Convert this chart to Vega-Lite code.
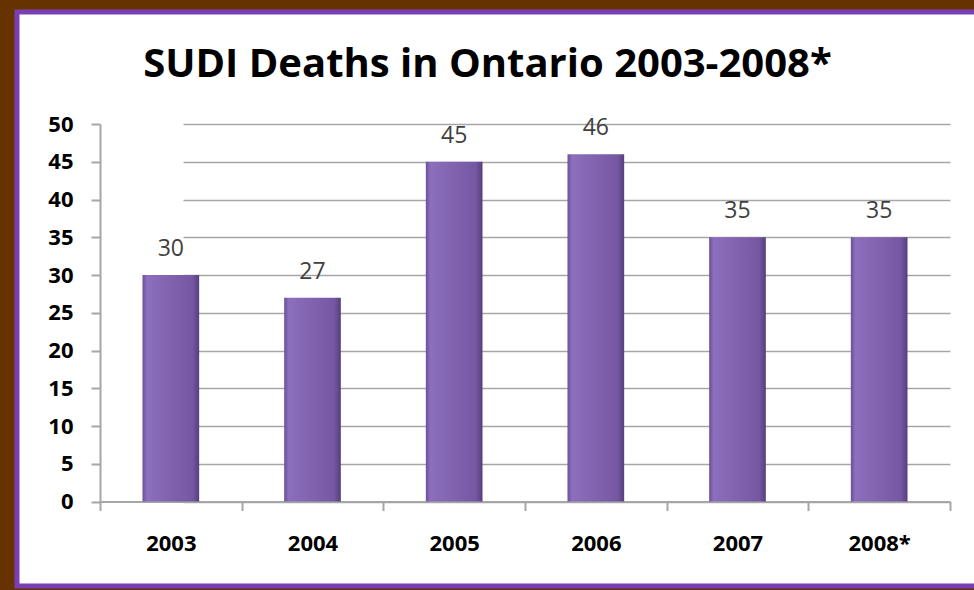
{
  "$schema": "https://vega.github.io/schema/vega-lite/v6.json",
  "width": 961,
  "height": 574,
  "autosize": {"type": "none"},
  "padding": {"left": 17, "top": 12, "right": -4, "bottom": 4},
  "background": "#663300",
  "config": {
    "view": {"fill": "white", "stroke": "#7b3fb5", "strokeWidth": 5},
    "font": "Open Sans"
  },
  "title": {
    "text": "SUDI Deaths in Ontario 2003-2008*",
    "font": "Open Sans",
    "fontSize": 40,
    "fontWeight": "bold",
    "color": "#000000",
    "anchor": "middle",
    "baseline": "alphabetic",
    "offset": -105,
    "dx": -10
  },
  "data": {
    "values": [
      {"year": "2003", "deaths": 30},
      {"year": "2004", "deaths": 27},
      {"year": "2005", "deaths": 45},
      {"year": "2006", "deaths": 46},
      {"year": "2007", "deaths": 35},
      {"year": "2008*", "deaths": 35}
    ]
  },
  "encoding": {
    "x": {
      "field": "year",
      "type": "nominal",
      "sort": null,
      "scale": {"range": [83, 933], "paddingInner": 0, "paddingOuter": 0},
      "axis": {
        "title": null,
        "orient": "bottom",
        "offset": -84.5,
        "labelAngle": 0,
        "tickBand": "extent",
        "domainColor": "#a6a6a6",
        "domainWidth": 2,
        "tickColor": "#a6a6a6",
        "tickWidth": 2,
        "tickSize": 9,
        "labelPadding": 23,
        "labelFont": "Open Sans",
        "labelFontWeight": "bold",
        "labelFontSize": 22,
        "labelColor": "#000000",
        "grid": false
      }
    },
    "y": {
      "field": "deaths",
      "type": "quantitative",
      "scale": {"domain": [0, 50], "range": [489.5, 112], "nice": false},
      "axis": {
        "title": null,
        "values": [0, 5, 10, 15, 20, 25, 30, 35, 40, 45, 50],
        "offset": -83,
        "domainColor": "#a6a6a6",
        "domainWidth": 2,
        "tickColor": "#a6a6a6",
        "tickWidth": 2,
        "tickSize": 9,
        "labelPadding": 18,
        "labelFont": "Open Sans",
        "labelFontWeight": "bold",
        "labelFontSize": 22,
        "labelColor": "#000000",
        "labelBound": false,
        "grid": true,
        "gridColor": "#a6a6a6",
        "gridWidth": 1.5,
        "gridDash": [0, 83, 850, 3000],
        "gridCap": "butt"
      }
    }
  },
  "layer": [
    {
      "mark": {
        "type": "bar",
        "width": {"band": 0.4},
        "color": {
          "gradient": "linear",
          "x1": 0, "x2": 1, "y1": 0, "y2": 0,
          "stops": [
            {"offset": 0, "color": "#6a4f99"},
            {"offset": 0.08, "color": "#8c6fbd"},
            {"offset": 0.5, "color": "#8062ad"},
            {"offset": 0.88, "color": "#7657a4"},
            {"offset": 1, "color": "#553f7c"}
          ]
        }
      }
    },
    {
      "mark": {
        "type": "text",
        "font": "Open Sans",
        "fontSize": 23,
        "color": "#404040",
        "baseline": "alphabetic",
        "dy": -19
      },
      "encoding": {"text": {"field": "deaths", "type": "quantitative"}}
    }
  ]
}
